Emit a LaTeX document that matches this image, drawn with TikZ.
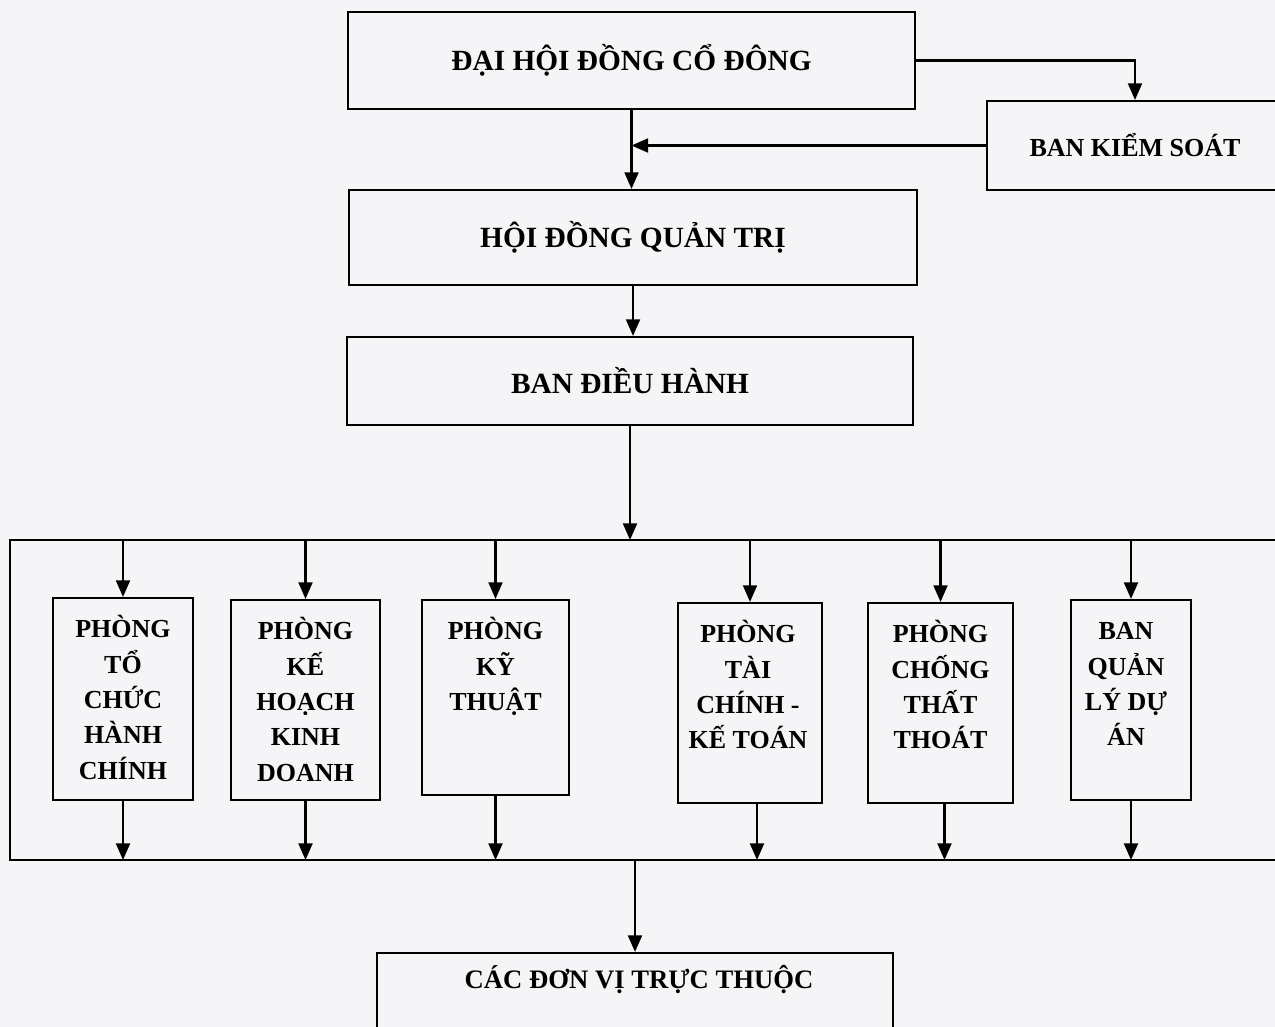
\documentclass[tikz,border=0pt]{standalone}
\usepackage{fontspec}
\setmainfont{Liberation Serif}
\usetikzlibrary{arrows.meta}
\definecolor{paper}{RGB}{245,245,247}
\begin{document}
\begin{tikzpicture}[x=0.75pt,y=-0.75pt,
  ln/.style={line width=1.6pt},
  arr/.style={ln,-{Triangle[length=12.5pt,width=10.5pt]}},
  bx/.style n args={2}{minimum width=#1*0.75pt,minimum height=#2*0.75pt},
  bigbox/.style={draw,ln,inner sep=0pt,font=\fontsize{22}{26}\selectfont\bfseries},
  dept/.style={draw,ln,inner sep=0pt},
  depttext/.style={anchor=north,inner sep=0pt,align=center,font=\fontsize{19.5}{26.5}\selectfont\bfseries},
]
\fill[paper] (0,0) rectangle (1275,1027);
\useasboundingbox (0,0) rectangle (1275,1027);
\clip (0,0) rectangle (1275,1027);

\node[bigbox,bx={567}{97}] (dh) at (631.5,60.5) {ĐẠI HỘI ĐỒNG CỔ ĐÔNG};
\node[draw,ln,inner sep=0pt,font=\fontsize{19.5}{24}\selectfont\bfseries,bx={296}{89}] (ks) at (1135,145.5) {BAN KIỂM SOÁT};
\node[bigbox,bx={568}{95}] (hd) at (633,237.5) {HỘI ĐỒNG QUẢN TRỊ};
\node[bigbox,bx={566}{88}] (bd) at (630,381) {BAN ĐIỀU HÀNH};

\draw[arr] (dh.east) -| (ks.north);
\draw[arr] (ks.west) -- (ks.west -| dh.south);
\draw[arr] (dh.south) -- (dh.south |- hd.north);
\draw[arr] (hd.south) -- (hd.south |- bd.north);

\coordinate (tl) at (10,540);
\coordinate (tr) at (1290,540);
\coordinate (bl) at (10,860);
\coordinate (br) at (1290,860);
\draw[ln] (tr) -- (tl) -- (bl) -- (br);
\draw[arr] (bd.south) -- (bd.south |- tl);

\node[dept,bx={140}{202}] (d1) at (123,699) {};
\node[dept,bx={149}{200}] (d2) at (305.5,700) {};
\node[dept,bx={147}{195}] (d3) at (495.5,697.5) {};
\node[dept,bx={144}{200}] (d4) at (750,703) {};
\node[dept,bx={145}{200}] (d5) at (940.5,703) {};
\node[dept,bx={120}{200}] (d6) at (1131,700) {};

\node[depttext] (t1) at ([yshift=-10.5pt]d1.north) {\rule{0pt}{20pt}PHÒNG\\TỔ\\CHỨC\\HÀNH\\CHÍNH};
\node[depttext] (t2) at ([yshift=-10.5pt]d2.north) {\rule{0pt}{20pt}PHÒNG\\KẾ\\HOẠCH\\KINH\\DOANH};
\node[depttext] (t3) at ([yshift=-10.5pt]d3.north) {\rule{0pt}{20pt}PHÒNG\\KỸ\\THUẬT};
\node[depttext] (t4) at ([yshift=-10.5pt,xshift=-1.5pt]d4.north) {\rule{0pt}{20pt}PHÒNG\\TÀI\\CHÍNH -\\KẾ TOÁN};
\node[depttext] (t5) at ([yshift=-10.5pt]d5.north) {\rule{0pt}{20pt}PHÒNG\\CHỐNG\\THẤT\\THOÁT};
\node[depttext] (t6) at ([yshift=-10.5pt,xshift=-3.75pt]d6.north) {\rule{0pt}{20pt}BAN\\QUẢN\\LÝ DỰ\\ÁN};

\foreach \i in {1,...,6}{
  \draw[arr] (d\i.north |- tl) -- (d\i.north);
}
\draw[arr] (d1.south) -- (d1.south |- bl);
\draw[arr] (d2.south) -- (d2.south |- bl);
\draw[arr] (d3.south) -- (d3.south |- bl);
\draw[arr] ([xshift=5.25pt]d4.south) -- ([xshift=5.25pt]d4.south |- bl);
\draw[arr] ([xshift=3pt]d5.south) -- ([xshift=3pt]d5.south |- bl);
\draw[arr] (d6.south) -- (d6.south |- bl);

\node[dept,bx={516}{100}] (cd) at (635,1003) {};
\node[inner sep=0pt,font=\fontsize{20}{24}\selectfont\bfseries] (cdt) at (639,980) {CÁC ĐƠN VỊ TRỰC THUỘC};
\draw[arr] (cd.north |- bl) -- (cd.north);
\end{tikzpicture}
\end{document}
